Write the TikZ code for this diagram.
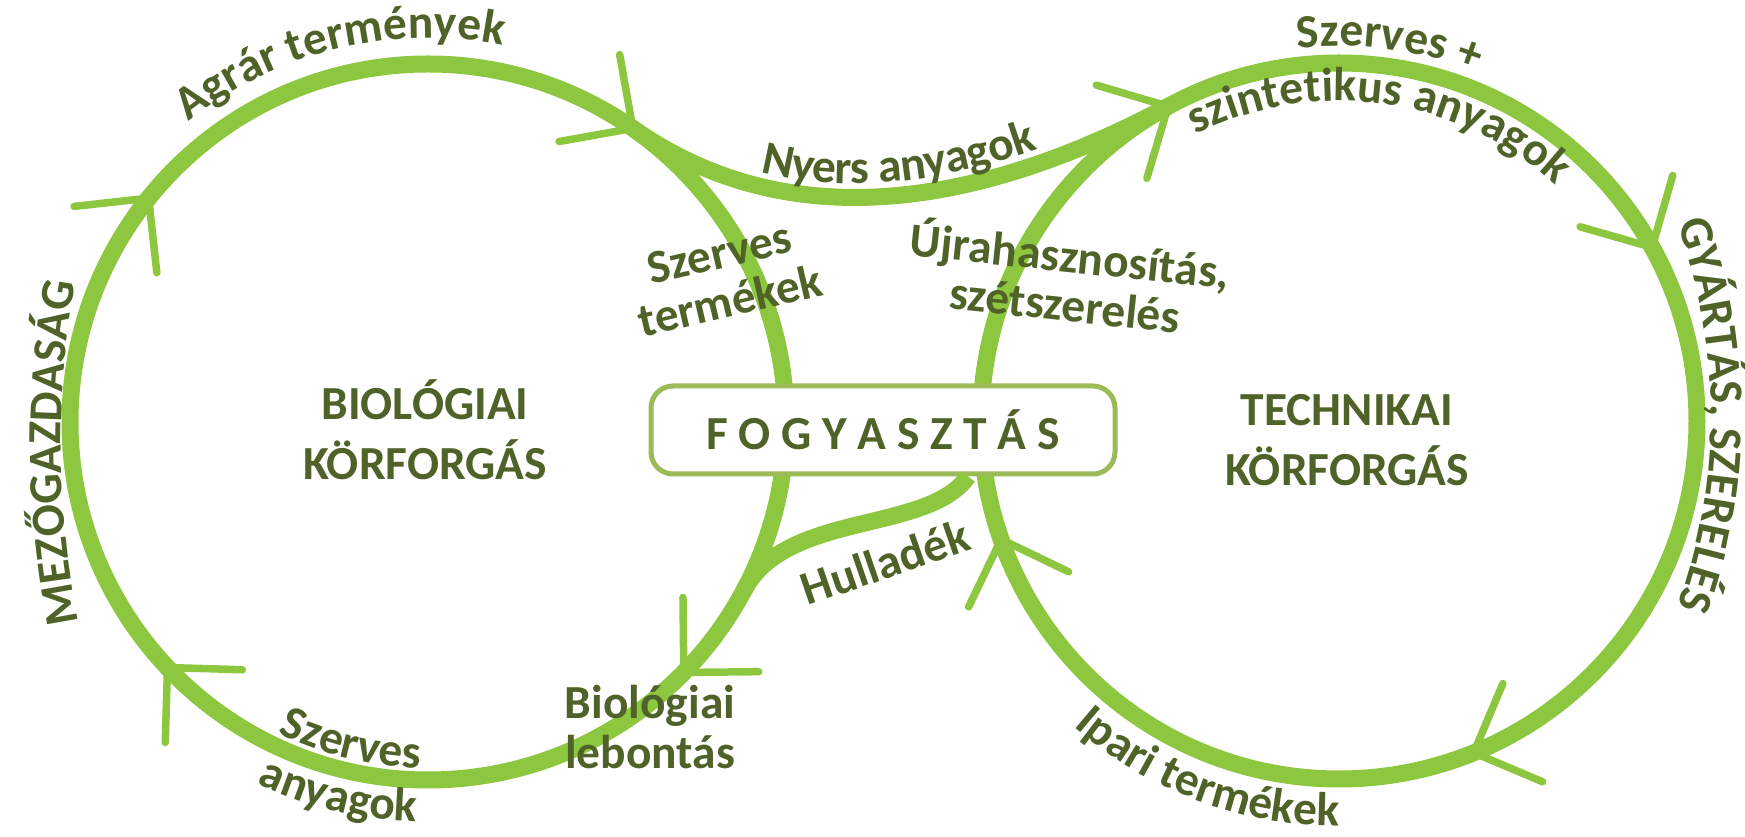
\documentclass[tikz,border=0pt]{standalone}
\usepackage{fontspec}
\setmainfont{Carlito}
\usetikzlibrary{calc,decorations.text}
\definecolor{leafline}{HTML}{8DC63F}
\definecolor{leaftext}{HTML}{4F6228}
\definecolor{boxline}{HTML}{9BBB59}
\newcommand{\cyclefont}{\fontsize{13.5}{14}\selectfont\bfseries}
\tikzset{
    cycle line/.style={
        leafline,
        line width=1.7mm
    },
    barb/.style={
        leafline,
        line width=0.75mm,
        line cap=round,
        line join=round
    },
    cycle label/.style={
        text=leaftext,
        font=\cyclefont,
        align=center,
        inner sep=0pt
    },
    curved label/.style={
        decorate,
        decoration={
            text along path,
            text align=center,
            text color=leaftext,
            text={|\cyclefont|#1}
        }
    },
    fogybox/.style={
        draw=boxline,
        line width=0.5mm,
        rounded corners=2.2mm,
        fill=white,
        minimum width=4.64cm,
        minimum height=0.88cm,
        text=leaftext,
        font=\cyclefont
    }
}

\begin{document}
\begin{tikzpicture}
    \useasboundingbox (0,0) rectangle (17.45,8.37);
    \coordinate (bio) at (4.28,4.15);
    \coordinate (tech) at (13.39,4.16);
    \coordinate (j1) at ($(bio)+(55.1:3.58)$);
    \coordinate (j2) at ($(tech)+(118.5:3.58)$);
    \coordinate (m1) at ($(bio)+(-28:3.58)$);

    \draw[cycle line] (bio) circle[radius=3.58];
    \draw[cycle line] (tech) circle[radius=3.58];
    \draw[cycle line] (j1) .. controls +(-35:2) and +(208:2) .. (j2);
    \foreach \a in {141.3,55.1,-44.4,223.3}
        \draw[barb, shift={($(bio)+(\a:3.58)$)}, rotate=\a] (-0.53,0.53) -- (0,0) -- (0.53,0.53);
    \foreach \a in {118.5,29,-67.9,199.3}
        \draw[barb, shift={($(tech)+(\a:3.58)$)}, rotate=\a] (-0.53,0.53) -- (0,0) -- (0.53,0.53);

    \node[fogybox] (fogy) at (8.83,4.07) {F O G Y A S Z T Á S};
    \coordinate (waste) at ([xshift=8.5mm]fogy.south);
    \draw[cycle line] (waste) .. controls +(235:0.7) and +(62:0.9) .. (m1);

    \node[cycle label] (biolbl) at (4.25,4.07) {BIOLÓGIAI\\[3pt]KÖRFORGÁS};
    \node[cycle label] (techlbl) at (13.47,3.97) {TECHNIKAI\\[3pt]KÖRFORGÁS};
    \node[cycle label, rotate=13] (szlbl) at (7.25,5.60) {Szerves\\termékek};
    \node[cycle label, rotate=-6] (ujlbl) at (10.68,5.60) {Újrahasznosítás,\\szétszerelés};
    \node[cycle label, rotate=19] (hulbl) at (8.85,2.75) {Hulladék};
    \node[cycle label] (leblbl) at (6.50,1.10) {Biológiai\\lebontás};

    \path[curved label={Agrár termények}] ($(bio)+(140:3.84)$) arc[start angle=140, end angle=67.4, radius=3.84];
    \path[curved label={Nyers anyagok}, decoration={raise=1.4mm}] (j1) .. controls +(-35:2) and +(208:2) .. (j2);
    \path[curved label={Szerves +}] ($(tech)+(112:3.75)$) arc[start angle=112, end angle=52.8, radius=3.75];
    \path[curved label={szintetikus anyagok}] ($(tech)+(130:3.2)$) arc[start angle=130, end angle=34, radius=3.2];
    \path[curved label={GYÁRTÁS, SZERELÉS}] ($(11.50,4.22)+(25:5.61)$) arc[start angle=25, end angle=-25, radius=5.61];
    \path[curved label={MEZŐGAZDASÁG}] ($(9.61,3.92)+(195:9)$) arc[start angle=195, end angle=166, radius=9];
    \path[curved label={Ipari termékek}] ($(tech)+(225:4.05)$) arc[start angle=225, end angle=274, radius=4.05];
    \path[curved label={Szerves}] ($(bio)+(240:3.46)$) arc[start angle=240, end angle=273, radius=3.46];
    \path[curved label={anyagok}] ($(bio)+(236:4.0)$) arc[start angle=236, end angle=277, radius=4.0];
\end{tikzpicture}
\end{document}
